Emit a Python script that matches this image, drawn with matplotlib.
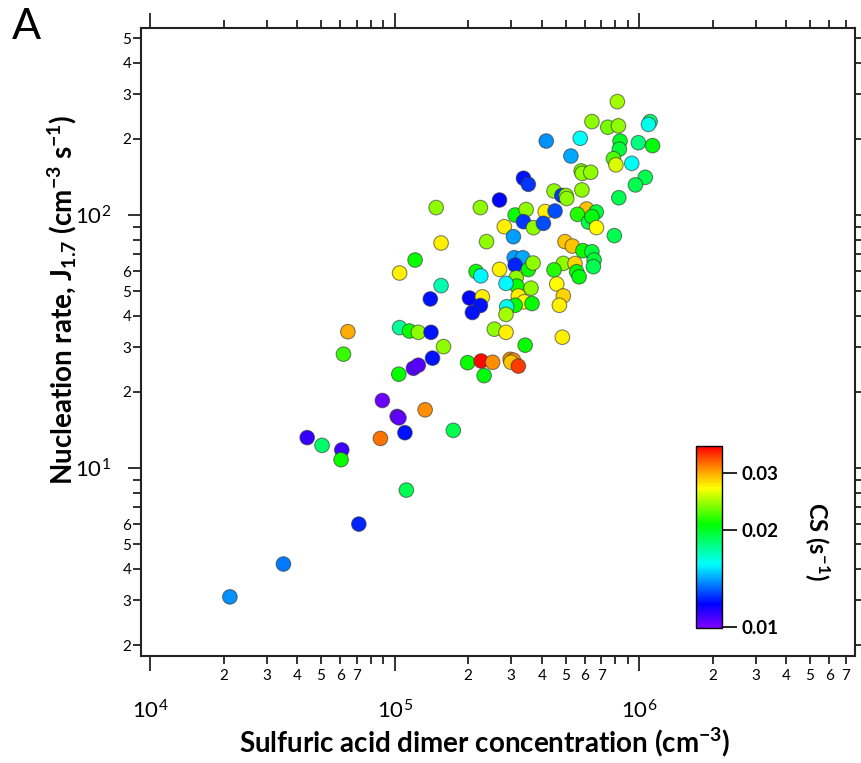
import numpy as np
import matplotlib
matplotlib.use('Agg')
import matplotlib.pyplot as plt
from matplotlib.colors import LinearSegmentedColormap, LogNorm
from matplotlib.ticker import LogLocator, FuncFormatter, NullLocator

plt.rcParams['font.family'] = ['Lato', 'DejaVu Sans']
plt.rcParams['mathtext.default'] = 'regular'

# sulfuric acid dimer concentration (cm-3), nucleation rate J1.7 (cm-3 s-1), CS (s-1)
dimer = [21200, 35100, 71400, 111700, 43900, 50500, 60800, 60400, 87500, 110200,
         89100, 102400, 104200, 133300, 173800, 104000, 119400, 125000, 142900, 158500,
         64400, 61800, 104800, 115000, 125000, 140900, 154900, 140000, 121300, 104800,
         154900, 147900, 224300, 268600, 336600, 352300, 311200, 345100, 336600, 369800,
         281000, 306200, 237700, 215400, 225200, 268600, 308400, 334300, 311200, 352300,
         368300, 314200, 316300, 361400, 285500, 320700, 338800, 364900, 311200, 287400,
         285500, 202400, 228500, 224300, 208000, 255800, 285500, 342000, 199000, 225900,
         251700, 296700, 306200, 299100, 320700, 232300, 485300, 814700, 641200, 744700,
         822700, 1109000, 1092000, 417000, 574400, 835900, 830000, 993000, 1135000, 526000,
         785400, 803500, 933000, 579600, 584800, 634000, 1060000, 966000, 583500, 448700,
         483000, 502700, 505700, 826000, 609600, 668000, 413000, 453000, 559700, 406100,
         620700, 641200, 669300, 792000, 497500, 533300, 589000, 641200, 654500, 650000,
         489700, 546700, 555400, 568500, 448700, 460400, 489700, 472000]
jrate = [3.10, 4.18, 6.01, 8.19, 13.2, 12.3, 11.8, 10.8, 13.1, 13.8,
         18.5, 16.0, 15.8, 17.0, 14.1, 23.5, 24.8, 25.5, 27.2, 30.2,
         34.6, 28.2, 35.9, 34.8, 34.4, 34.4, 52.6, 46.6, 66.4, 59.0,
         77.5, 107, 107, 114.6, 139.7, 132.2, 100, 105.1, 94.1, 89.1,
         89.9, 82.1, 78.5, 59.8, 57.5, 61.0, 67.8, 67.8, 63.4, 60.9,
         64.6, 56.5, 52.4, 51.4, 53.7, 47.9, 45.4, 44.7, 44.0, 43.4,
         40.5, 47.0, 47.5, 43.9, 41.2, 35.4, 34.4, 30.6, 26.1, 26.5,
         26.2, 26.9, 26.7, 26.2, 25.3, 23.2, 32.9, 280.5, 233.9, 222.2,
         225.0, 233.9, 228, 196, 201, 196, 182, 193, 188, 171,
         167, 157.8, 160, 149.3, 146, 147.5, 140.9, 131.5, 125.6, 124.4,
         119.4, 119.4, 116.2, 117, 105.6, 102.8, 103.2, 103.7, 100.6, 92.7,
         93.8, 98.5, 89.2, 82.9, 78.5, 75.4, 72.3, 71.6, 66.4, 62.5,
         64.4, 64.3, 59.7, 57.0, 60.7, 53.4, 47.9, 44.0]
cs = [0.0138, 0.0135, 0.0122, 0.019, 0.011, 0.0185, 0.0108, 0.021, 0.032, 0.012,
      0.0102, 0.0102, 0.0104, 0.031, 0.019, 0.021, 0.0105, 0.0105, 0.012, 0.024,
      0.030, 0.022, 0.0175, 0.021, 0.024, 0.012, 0.017, 0.012, 0.021, 0.0275,
      0.0275, 0.024, 0.024, 0.0118, 0.012, 0.0125, 0.021, 0.024, 0.0125, 0.024,
      0.0275, 0.014, 0.024, 0.021, 0.0155, 0.0275, 0.014, 0.0142, 0.0122, 0.021,
      0.024, 0.024, 0.021, 0.024, 0.0155, 0.0275, 0.027, 0.021, 0.021, 0.016,
      0.0245, 0.0118, 0.0275, 0.012, 0.012, 0.024, 0.0275, 0.021, 0.021, 0.036,
      0.031, 0.031, 0.031, 0.029, 0.034, 0.0205, 0.0275, 0.0245, 0.024, 0.0235,
      0.024, 0.0185, 0.016, 0.0138, 0.0158, 0.020, 0.0195, 0.018, 0.0205, 0.0142,
      0.0225, 0.026, 0.0158, 0.0235, 0.024, 0.024, 0.019, 0.019, 0.024, 0.024,
      0.0125, 0.024, 0.024, 0.019, 0.029, 0.0195, 0.0275, 0.0128, 0.0215, 0.0128,
      0.019, 0.0205, 0.027, 0.019, 0.029, 0.029, 0.021, 0.0195, 0.0195, 0.019,
      0.024, 0.0285, 0.021, 0.0205, 0.0215, 0.027, 0.0285, 0.0275]

cs_ticks = [0.01, 0.02, 0.03]
cs_labels = ['0.01', '0.02', '0.03']

fig = plt.figure(figsize=(8.62, 7.63), dpi=100)
ax = fig.add_axes([0.1636, 0.1402, 0.8283, 0.8231])

cmap = LinearSegmentedColormap.from_list('igor_rainbow', [
    (0.0, (0.5, 0.0, 1.0)), (0.13, (0.0, 0.0, 1.0)), (0.35, (0.0, 1.0, 1.0)),
    (0.57, (0.0, 1.0, 0.0)), (0.77, (1.0, 1.0, 0.0)), (0.87, (1.0, 0.6, 0.0)),
    (1.0, (1.0, 0.0, 0.0))])
norm = LogNorm(vmin=0.0099, vmax=0.0364)

sc = ax.scatter(dimer, jrate, c=cs, cmap=cmap, norm=norm, s=110,
                edgecolors=(0.2, 0.2, 0.2, 0.6), linewidths=0.8, zorder=3)

ax.set_xscale('log')
ax.set_yscale('log')
ax.set_xlim(9180, 7.64e6)
ax.set_ylim(1.81, 548)


def minor_fmt(keep):
    def f(v, pos):
        d = int(round(v / 10 ** np.floor(np.log10(v) + 1e-9)))
        return str(d) if d in keep else ''
    return FuncFormatter(f)


def major_fmt(v, pos):
    return '$10^{%d}$' % int(round(np.log10(v)))


for axis, keep in ((ax.xaxis, range(2, 8)), (ax.yaxis, range(2, 7))):
    axis.set_major_locator(LogLocator(base=10, numticks=10))
    axis.set_minor_locator(LogLocator(base=10, subs=np.arange(2, 10), numticks=20))
    axis.set_major_formatter(FuncFormatter(major_fmt))
    axis.set_minor_formatter(minor_fmt(keep))

for s in ax.spines.values():
    s.set_linewidth(1.5)
    s.set_color('#222222')
ax.tick_params(which='both', direction='out', top=True, right=True,
               labeltop=False, labelright=False, width=1.3, color='#222222')
ax.tick_params(axis='x', which='major', length=11, pad=20, labelsize=16)
ax.tick_params(axis='x', which='minor', length=5.5, pad=4, labelsize=11)
ax.tick_params(axis='y', which='major', length=9.5, pad=12, labelsize=16)
ax.tick_params(axis='y', which='minor', length=5.5, pad=1.5, labelsize=11)

cax = fig.add_axes([0.8074, 0.1769, 0.0302, 0.2385])
cb = fig.colorbar(sc, cax=cax)
cb.set_ticks(cs_ticks)
cb.set_ticklabels(cs_labels)
cax.yaxis.set_minor_locator(NullLocator())
cb.outline.set_linewidth(1.0)
cax.tick_params(length=11, width=1.2, labelsize=13.5, pad=3)
for t in cax.get_yticklabels():
    t.set_fontweight('bold')
fig.text(817 / 862, 1 - 541 / 763, 'CS (s$^{-1}$)', rotation=270,
         ha='center', va='center', fontsize=17, fontweight='bold')

fig.text(485 / 862, 1 - 742 / 763, 'Sulfuric acid dimer concentration (cm$^{-3}$)',
         ha='center', va='center', fontsize=20, fontweight='bold')
fig.text(62 / 862, 1 - 300 / 763, 'Nucleation rate, J$_{1.7}$ (cm$^{-3}$ s$^{-1}$)',
         rotation=90, ha='center', va='center', fontsize=20, fontweight='bold')
fig.text(12 / 862, 1 - 8 / 763, 'A', ha='left', va='top', fontsize=31)

fig.savefig('out.png', dpi=100)
